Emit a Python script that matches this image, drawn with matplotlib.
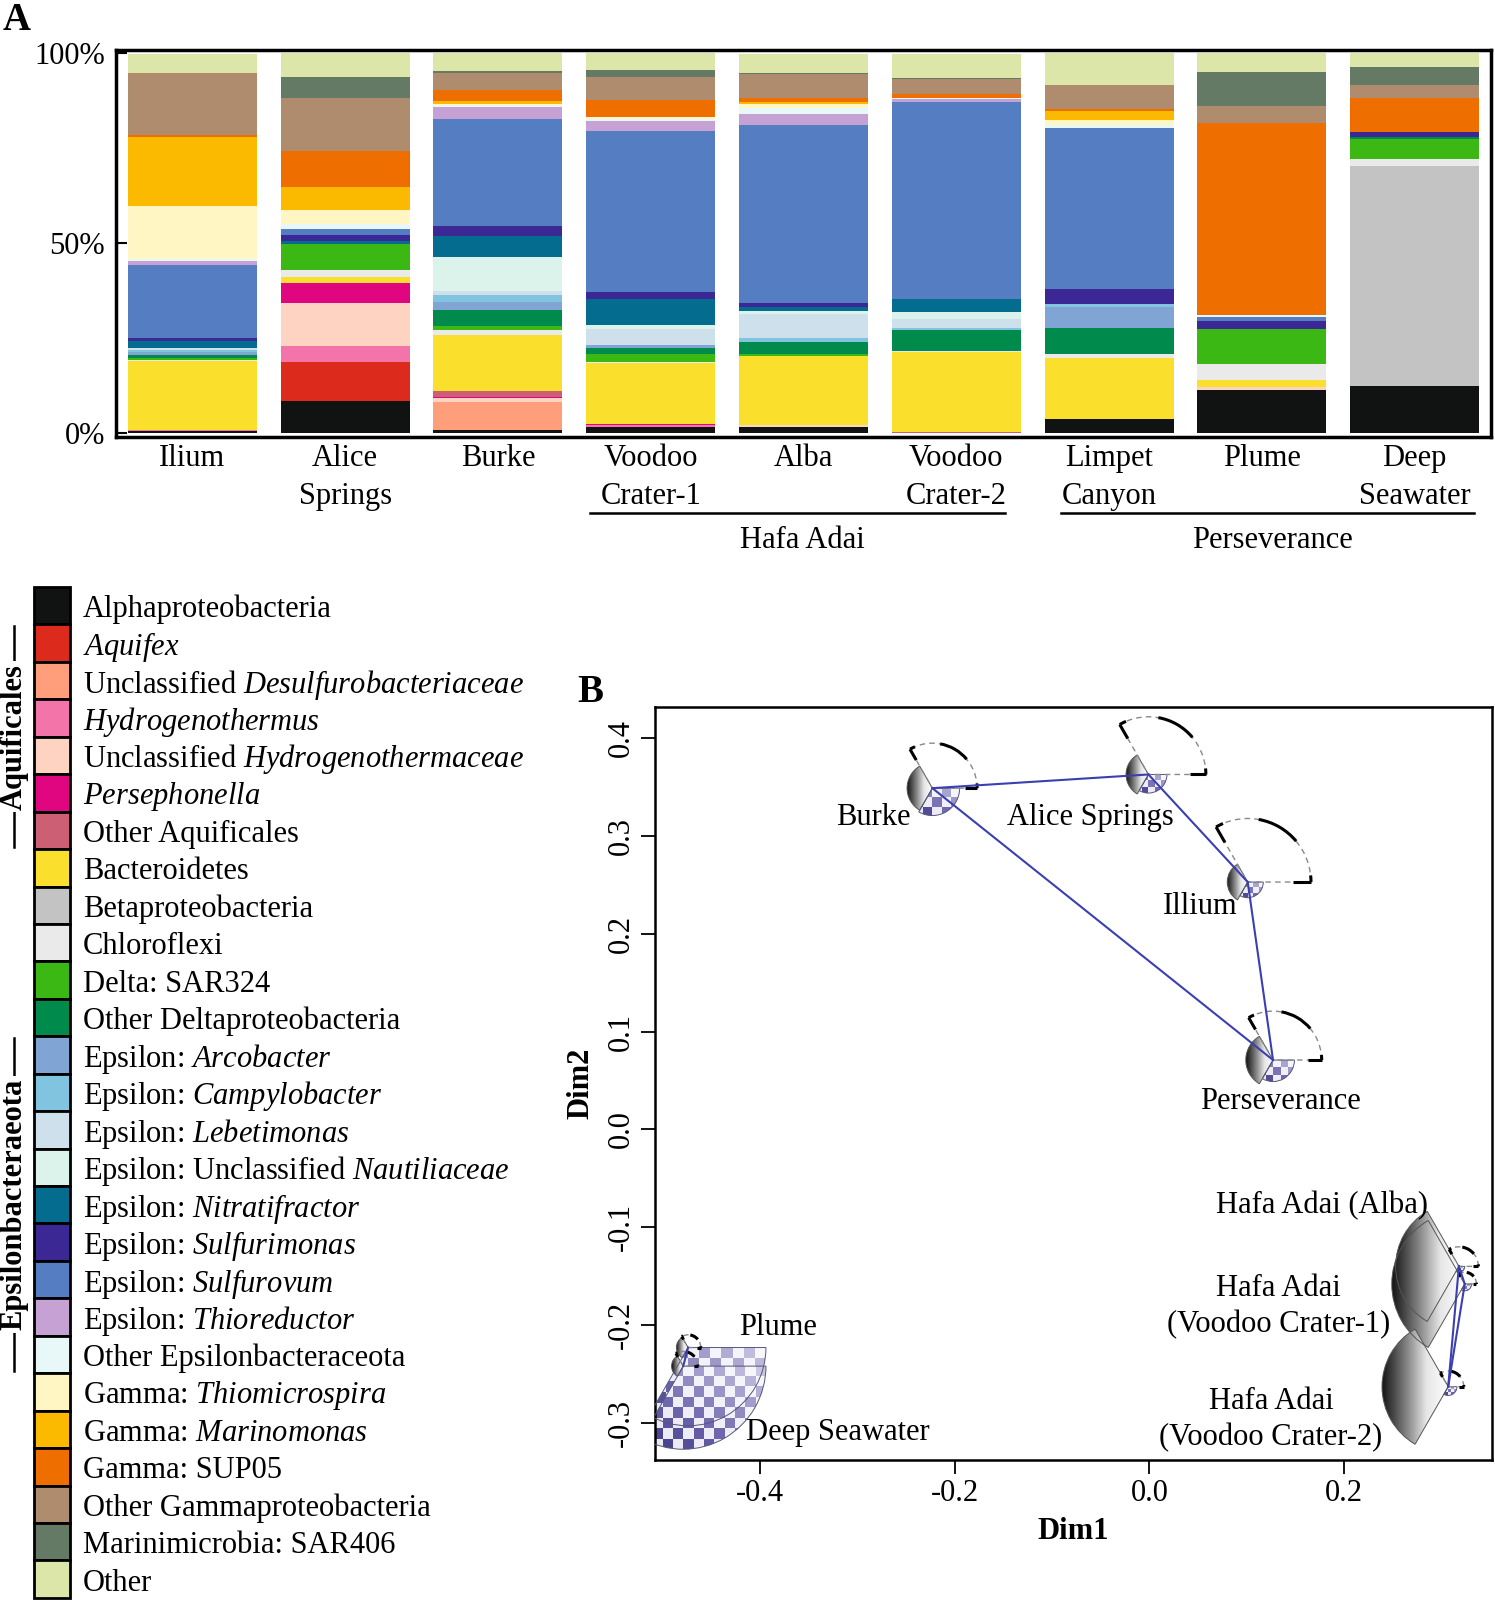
import numpy as np
import matplotlib
matplotlib.use('Agg')
import matplotlib.pyplot as plt
from matplotlib.patches import Wedge, Rectangle, Arc
from matplotlib.colors import LinearSegmentedColormap

plt.rcParams['font.family'] = ['Liberation Serif', 'DejaVu Serif']
plt.rcParams['mathtext.fontset'] = 'custom'
plt.rcParams['mathtext.rm'] = 'Liberation Serif'
plt.rcParams['mathtext.it'] = 'Liberation Serif:italic'
plt.rcParams['mathtext.bf'] = 'Liberation Serif:bold'

# ---------------- Panel A data ----------------
sites = ['Ilium', 'Alice\nSprings', 'Burke', 'Voodoo\nCrater-1', 'Alba',
         'Voodoo\nCrater-2', 'Limpet\nCanyon', 'Plume', 'Deep\nSeawater']

taxa = ['Alphaproteobacteria', r'$\mathit{Aquifex}$',
        r'Unclassified $\mathit{Desulfurobacteriaceae}$', r'$\mathit{Hydrogenothermus}$',
        r'Unclassified $\mathit{Hydrogenothermaceae}$', r'$\mathit{Persephonella}$',
        'Other Aquificales', 'Bacteroidetes', 'Betaproteobacteria', 'Chloroflexi',
        'Delta: SAR324', 'Other Deltaproteobacteria', r'Epsilon: $\mathit{Arcobacter}$',
        r'Epsilon: $\mathit{Campylobacter}$', r'Epsilon: $\mathit{Lebetimonas}$',
        r'Epsilon: Unclassified $\mathit{Nautiliaceae}$', r'Epsilon: $\mathit{Nitratifractor}$',
        r'Epsilon: $\mathit{Sulfurimonas}$', r'Epsilon: $\mathit{Sulfurovum}$',
        r'Epsilon: $\mathit{Thioreductor}$', 'Other Epsilonbacteraceota',
        r'Gamma: $\mathit{Thiomicrospira}$', r'Gamma: $\mathit{Marinomonas}$',
        'Gamma: SUP05', 'Other Gammaproteobacteria', 'Marinimicrobia: SAR406', 'Other']

colors = ['#111312', '#DC2A1C', '#FF9E7A', '#F274A8', '#FFD3C2', '#E0067F', '#CD5F74',
          '#FAE02C', '#C2C3C2', '#EAEAEA', '#3CB815', '#008A4C', '#80A4D3', '#80C4E0',
          '#CEE0EC', '#DCF3EC', '#036C8F', '#3B2894', '#557DC1', '#C6A2D4', '#E8F8F8',
          '#FFF6C4', '#FBB900', '#EE6E00', '#AF8C6E', '#647A64', '#DCE6A8']

# relative abundance (%) per site, order: Ilium, Alice, Burke, VC1, Alba, VC2, Limpet, Plume, Deep
alpha        = [0.4, 8.3, 0.7, 1.6, 1.6, 0.0, 3.7, 11.4, 12.5]
aquifex      = [0.0, 10.5, 0.0, 0.0, 0.0, 0.0, 0.0, 0.0, 0.0]
desulfuro    = [0.0, 0.0, 7.5, 0.0, 0.0, 0.0, 0.0, 0.0, 0.0]
hydrogenoth  = [0.4, 4.2, 0.0, 0.4, 0.0, 0.0, 0.0, 0.0, 0.0]
unc_hydrog   = [0.0, 11.1, 0.9, 0.0, 0.4, 0.0, 0.0, 0.7, 0.0]
persephonel  = [0.0, 5.3, 0.4, 0.5, 0.0, 0.0, 0.0, 0.0, 0.0]
oth_aquif    = [0.0, 0.0, 1.5, 0.0, 0.0, 0.3, 0.0, 0.0, 0.0]
bacteroid    = [18.2, 1.7, 14.9, 15.8, 18.3, 20.9, 16.1, 1.9, 0.0]
beta         = [0.0, 0.0, 0.0, 0.0, 0.0, 0.0, 0.0, 0.0, 57.9]
chloroflexi  = [0.3, 1.8, 1.1, 0.4, 0.0, 0.4, 0.9, 4.1, 1.8]
sar324       = [0.4, 6.8, 1.1, 2.2, 0.5, 0.0, 0.0, 9.2, 5.3]
oth_delta    = [0.9, 0.0, 4.2, 1.5, 3.2, 5.4, 7.0, 0.0, 0.4]
arcobacter   = [0.6, 0.0, 2.1, 0.7, 0.0, 0.0, 5.4, 0.0, 0.0]
campylob     = [0.7, 0.0, 1.8, 0.0, 1.1, 0.6, 0.9, 0.0, 0.0]
lebetimonas  = [0.6, 0.0, 1.3, 4.2, 6.2, 2.3, 0.0, 0.0, 0.0]
nautiliac    = [0.0, 0.0, 8.9, 1.1, 0.8, 1.9, 0.0, 0.0, 0.0]
nitratifr    = [1.8, 0.9, 5.5, 7.0, 1.1, 3.6, 0.0, 0.0, 0.0]
sulfurimon   = [0.6, 1.6, 2.5, 1.6, 1.1, 0.0, 3.8, 2.2, 1.3]
sulfurovum   = [19.4, 1.6, 28.2, 42.5, 46.7, 51.7, 42.5, 0.9, 0.0]
thioreduct   = [0.9, 0.0, 3.2, 2.6, 2.9, 0.7, 0.0, 0.0, 0.0]
oth_epsilon  = [0.6, 1.3, 0.6, 0.5, 1.7, 0.4, 0.7, 0.6, 0.0]
thiomicros   = [13.9, 3.7, 0.3, 0.6, 1.1, 0.0, 1.5, 0.0, 0.0]
marinomonas  = [18.2, 5.9, 0.6, 0.0, 0.4, 0.0, 2.2, 0.0, 0.0]
sup05        = [0.4, 9.5, 3.1, 4.4, 1.1, 0.9, 0.7, 50.7, 8.9]
oth_gamma    = [16.5, 14.0, 4.4, 6.1, 6.2, 4.1, 6.1, 4.4, 3.5]
sar406       = [0.0, 5.4, 0.5, 1.8, 0.4, 0.3, 0.0, 8.9, 4.6]
other        = [5.0, 6.4, 4.6, 4.4, 5.0, 6.3, 8.5, 5.0, 3.9]

series = [alpha, aquifex, desulfuro, hydrogenoth, unc_hydrog, persephonel, oth_aquif,
          bacteroid, beta, chloroflexi, sar324, oth_delta, arcobacter, campylob,
          lebetimonas, nautiliac, nitratifr, sulfurimon, sulfurovum, thioreduct,
          oth_epsilon, thiomicros, marinomonas, sup05, oth_gamma, sar406, other]

# ---------------- Panel B data ----------------
pt_names = ['Burke', 'Alice Springs', 'Illium', 'Perseverance', 'Hafa Adai (Alba)',
            'Hafa Adai\n(Voodoo Crater-1)', 'Hafa Adai\n(Voodoo Crater-2)', 'Plume', 'Deep Seawater']
dim1 = [-0.223, -0.001, 0.101, 0.127, 0.318, 0.324, 0.307, -0.474, -0.479]
dim2 = [0.349, 0.363, 0.253, 0.071, -0.140, -0.158, -0.263, -0.223, -0.242]
# star segment lengths
seg_gray    = [0.026, 0.023, 0.021, 0.028, 0.065, 0.075, 0.068, 0.012, 0.012]
seg_checker = [0.028, 0.019, 0.016, 0.022, 0.006, 0.007, 0.009, 0.080, 0.085]
seg_outline = [0.046, 0.059, 0.065, 0.050, 0.020, 0.012, 0.016, 0.013, 0.015]
edges = [(0, 1), (1, 2), (2, 3), (3, 0), (4, 5), (5, 6), (6, 4), (7, 8)]
label_x = [-0.245, -0.061, 0.052, 0.135, 0.177, 0.133, 0.125, -0.382, -0.320]
label_y = [0.319, 0.319, 0.228, 0.029, -0.078, -0.181, -0.297, -0.203, -0.310]
label_ha = ['right', 'center', 'center', 'center', 'center', 'center', 'center', 'center', 'center']

FS = 22
W, H = 1495, 1600
fig = plt.figure(figsize=(W / 100, H / 100), dpi=100)

def fr(x0, y0, x1, y1):
    return [x0 / W, 1 - y1 / H, (x1 - x0) / W, (y1 - y0) / H]

# ---------------- Panel A ----------------
axA = fig.add_axes(fr(116, 50, 1491, 437))
xpos = np.arange(len(sites))
bottom = np.zeros(len(sites))
for vals, col in zip(series, colors):
    v = np.array(vals)
    axA.bar(xpos, v, bottom=bottom, width=0.844, color=col, edgecolor='none', zorder=2)
    bottom += v
axA.set_xlim(-0.5, 8.5)
axA.set_ylim(-1.05, 100.8)
axA.set_yticks([0, 50, 100])
axA.set_yticklabels(['0%', '50%', '100%'], fontsize=FS)
axA.set_xticks(xpos)
axA.set_xticklabels(sites, fontsize=FS, linespacing=1.42)
axA.tick_params(axis='x', length=0, pad=5)
axA.tick_params(axis='y', direction='in', length=8, width=1.5, pad=8)
for s in axA.spines.values():
    s.set_linewidth(2.5)

# ---------------- Panel B ----------------
axB = fig.add_axes(fr(655, 707, 1492, 1460))
gray_cmap = LinearSegmentedColormap.from_list('g', ['#151515', '#7a7a7a', '#e6e6e6', '#ffffff'])
purp_cmap = LinearSegmentedColormap.from_list('p', ['#ffffff', '#c9c5e3', '#6e67ad', '#231e6e'])

def gray_wedge(ax, cx, cy, r):
    w = Wedge((cx, cy), r, 120, 240, facecolor='none', edgecolor='#555555', lw=0.7, zorder=3)
    ax.add_patch(w)
    grad = np.linspace(0, 1, 64)[None, :]
    im = ax.imshow(grad, cmap=gray_cmap, extent=[cx - r, cx, cy - r, cy + r],
                   origin='lower', aspect='auto', interpolation='bilinear', zorder=2)
    im.set_clip_path(w)

def checker_wedge(ax, cx, cy, r):
    w = Wedge((cx, cy), r, 240, 360, facecolor='none', edgecolor='#55557a', lw=0.7, zorder=3)
    ax.add_patch(w)
    cell = 0.012 if r > 0.03 else max(r / 3, 0.002)
    n = max(1, int(np.ceil(r / cell)))
    xs = (np.arange(2 * n) + 0.5) / (2 * n)
    ys = (np.arange(n) + 0.5) / n
    X, Y = np.meshgrid(xs, ys)
    I, J = np.meshgrid(np.arange(2 * n), np.arange(n))
    shade = 0.3 + 0.7 * (0.55 * (1 - X) + 0.45 * (1 - Y))
    img = np.where((I + J) % 2 == 0, shade, shade * 0.15)
    im = ax.imshow(img, cmap=purp_cmap, vmin=0, vmax=1, extent=[cx - r, cx + r, cy - r, cy],
                   origin='lower', aspect='auto', interpolation='nearest', zorder=2)
    im.set_clip_path(w)

def outline_wedge(ax, cx, cy, r):
    ax.add_patch(Wedge((cx, cy), r, 0, 120, facecolor='none', edgecolor='#8a8a8a',
                       lw=1.0, ls=(0, (4, 3)), zorder=4))
    for a0, a1 in [(0, 6), (40, 80), (113, 120)]:
        ax.add_patch(Arc((cx, cy), 2 * r, 2 * r, theta1=a0, theta2=a1, color='black',
                         lw=2.2, zorder=5))
    for ang in (0, 120):
        c, s = np.cos(np.radians(ang)), np.sin(np.radians(ang))
        ax.plot([cx + 0.72 * r * c, cx + r * c], [cy + 0.72 * r * s, cy + r * s],
                color='black', lw=2.2, zorder=5, solid_capstyle='butt')

for i in range(len(dim1)):
    gray_wedge(axB, dim1[i], dim2[i], seg_gray[i])
    checker_wedge(axB, dim1[i], dim2[i], seg_checker[i])
    outline_wedge(axB, dim1[i], dim2[i], seg_outline[i])

for a, b in edges:
    axB.plot([dim1[a], dim1[b]], [dim2[a], dim2[b]], color='#3B3FB0', lw=1.5, zorder=6)

for i, name in enumerate(pt_names):
    axB.text(label_x[i], label_y[i], name, fontsize=FS, ha=label_ha[i], va='center',
             linespacing=1.3, zorder=7)

axB.set_xlim(-0.508, 0.352)
axB.set_ylim(-0.338, 0.432)
axB.set_xticks([-0.4, -0.2, 0.0, 0.2])
axB.set_xticklabels(['-0.4', '-0.2', '0.0', '0.2'], fontsize=FS)
axB.set_yticks([-0.3, -0.2, -0.1, 0.0, 0.1, 0.2, 0.3, 0.4])
axB.set_yticklabels(['-0.3', '-0.2', '-0.1', '0.0', '0.1', '0.2', '0.3', '0.4'],
                    fontsize=FS, rotation=90, va='center')
axB.tick_params(direction='out', length=10, width=1.3, pad=4)
axB.set_xlabel('Dim1', fontsize=FS, fontweight='bold', labelpad=6)
axB.set_ylabel('Dim2', fontsize=FS, fontweight='bold', labelpad=8)
for s in axB.spines.values():
    s.set_linewidth(1.8)

# ---------------- Overlay: legend, group labels, panel letters ----------------
ov = fig.add_axes([0, 0, 1, 1], zorder=10)
ov.set_xlim(0, W)
ov.set_ylim(H, 0)
ov.axis('off')
ov.patch.set_visible(False)

y0, step = 587.0, 37.44
for i, (lab, col) in enumerate(zip(taxa, colors)):
    ov.add_patch(Rectangle((34, y0 + i * step), 36, step, facecolor=col,
                           edgecolor='black', lw=2.0))
    ov.text(83, y0 + (i + 0.5) * step + 4, lab, fontsize=FS, ha='left', va='center')

def group_label(text, i0, i1):
    ya, yb = y0 + i0 * step + 2, y0 + (i1 + 1) * step - 2
    ov.plot([14, 14], [ya, yb], color='black', lw=1.8)
    ov.text(14, (ya + yb) / 2, text, fontsize=FS, fontweight='bold', rotation=90,
            ha='center', va='center',
            bbox=dict(facecolor='white', edgecolor='none', pad=2))

group_label('Aquificales', 1, 6)
group_label('Epsilonbacteraeota', 12, 20)

# site group underlines
ov.plot([590, 1005], [513, 513], color='black', lw=1.8)
ov.plot([1061, 1474], [513, 513], color='black', lw=1.8)
ov.text(802, 540, 'Hafa Adai', fontsize=FS, ha='center', va='center')
ov.text(1272, 540, 'Perseverance', fontsize=FS, ha='center', va='center')

ov.text(17, 20, 'A', fontsize=28, fontweight='bold', ha='center', va='center')
ov.text(590, 693, 'B', fontsize=28, fontweight='bold', ha='center', va='center')

fig.savefig('out.png', dpi=100)
